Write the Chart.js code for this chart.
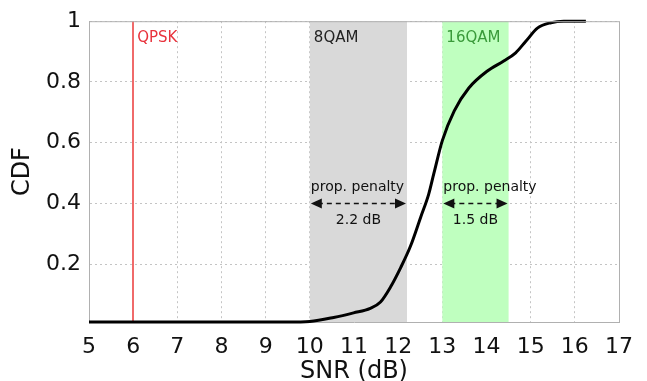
<!DOCTYPE html>
<html>
<head>
<meta charset="utf-8">
<script src="https://cdn.jsdelivr.net/npm/chart.js"></script>
<style>
  html, body { margin: 0; padding: 0; background: #fff; }
  #wrap { width: 647px; height: 381px; }
</style>
</head>
<body>
<div id="wrap"><canvas id="cdfChart" width="647" height="381"></canvas></div>

<script>
    // CDF curve
    const snr = [5, 9.5, 10.0, 10.54, 10.99, 11.37, 11.6, 11.83, 12.06, 12.28, 12.51, 12.69, 12.81,
                 13.0, 13.27, 13.6, 14.02, 14.39, 14.66, 14.89, 15.16, 15.46, 15.75, 16.25];
    const cdf = [0.01, 0.01, 0.012, 0.025, 0.04, 0.055, 0.076, 0.126, 0.19, 0.26, 0.355, 0.43, 0.5,
                 0.607, 0.705, 0.78, 0.836, 0.869, 0.896, 0.934, 0.978, 0.995, 1.0, 1.0];

    // modulation thresholds (dB) and penalty regions
    const formats = ['QPSK', '8QAM', '16QAM'];
    const thresholds = [6, 10, 13];
    const penaltyEnd = [null, 12.2, 14.5];
    const penaltyLabels = [null, '2.2 dB', '1.5 dB'];
    const arrowLevel = 0.4;

    const yTicks = [0.2, 0.4, 0.6, 0.8, 1];

    const font = '"DejaVu Sans", Verdana, sans-serif';

    function arrowHead(ctx, x, y, dir) {
        ctx.beginPath();
        ctx.moveTo(x, y);
        ctx.lineTo(x - dir * 11, y - 5);
        ctx.lineTo(x - dir * 11, y + 5);
        ctx.closePath();
        ctx.fill();
    }

    const regions = {
        id: 'regions',
        beforeDatasetsDraw(chart) {
            const { ctx, chartArea: a, scales: { x } } = chart;
            ctx.save();
            thresholds.forEach((t, i) => {
                if (penaltyEnd[i] === null) return;
                ctx.fillStyle = i === 1 ? '#d9d9d9' : '#bfffbf';
                const x0 = x.getPixelForValue(t), x1 = x.getPixelForValue(penaltyEnd[i]);
                ctx.fillRect(x0, a.top, x1 - x0, a.bottom - a.top);
            });
            // QPSK threshold line
            ctx.strokeStyle = '#f06a6a';
            ctx.lineWidth = 2;
            ctx.beginPath();
            const xq = Math.round(x.getPixelForValue(thresholds[0]));
            ctx.moveTo(xq, a.top);
            ctx.lineTo(xq, a.bottom);
            ctx.stroke();
            ctx.restore();
        },
        afterDatasetsDraw(chart) {
            const { ctx, chartArea: a, scales: { x, y } } = chart;
            ctx.save();
            // top and right frame
            ctx.strokeStyle = '#b0b0b0';
            ctx.lineWidth = 1;
            ctx.beginPath();
            ctx.moveTo(a.left, a.top + 0.5);
            ctx.lineTo(a.right + 0.5, a.top + 0.5);
            ctx.lineTo(a.right + 0.5, a.bottom);
            ctx.stroke();

            const colors = ['#e8323c', '#222222', '#3a9a3a'];
            ctx.font = '15px ' + font;
            ctx.textBaseline = 'middle';
            ctx.textAlign = 'left';
            thresholds.forEach((t, i) => {
                ctx.fillStyle = colors[i];
                ctx.fillText(formats[i], x.getPixelForValue(t) + 4, a.top + 17);
            });

            const ya = y.getPixelForValue(arrowLevel);
            thresholds.forEach((t, i) => {
                if (penaltyEnd[i] === null) return;
                const x0 = x.getPixelForValue(t), x1 = x.getPixelForValue(penaltyEnd[i]);
                ctx.fillStyle = '#111';
                ctx.font = '14px ' + font;
                ctx.textAlign = 'left';
                ctx.fillText('prop. penalty', x0 + 1, ya - 16);
                ctx.textAlign = 'center';
                ctx.fillText(penaltyLabels[i], (x0 + x1) / 2, ya + 17);
                ctx.strokeStyle = '#111';
                ctx.lineWidth = 1.6;
                ctx.setLineDash([5, 4]);
                ctx.beginPath();
                ctx.moveTo(x0 + 8, ya);
                ctx.lineTo(x1 - 8, ya);
                ctx.stroke();
                ctx.setLineDash([]);
                arrowHead(ctx, x0 + 1, ya, -1);
                arrowHead(ctx, x1 - 1, ya, 1);
            });
            ctx.restore();
        }
    };

    const ctx = document.getElementById('cdfChart').getContext('2d');
    const cdfChart = new Chart(ctx, {
        type: 'line',
        data: {
            datasets: [{
                data: snr.map((v, i) => ({ x: v, y: cdf[i] })),
                borderColor: '#000',
                borderWidth: 3,
                pointRadius: 0,
                cubicInterpolationMode: 'monotone',
                fill: false,
                clip: 4
            }]
        },
        options: {
            responsive: false,
            animation: false,
            events: [],
            layout: { padding: { top: 8, right: 28, left: 0, bottom: 0 } },
            plugins: { legend: { display: false }, tooltip: { enabled: false } },
            scales: {
                x: {
                    type: 'linear',
                    min: 5,
                    max: 17,
                    afterFit: s => { s.height = 59; },
                    ticks: { stepSize: 1, color: '#111', font: { family: font, size: 22 }, padding: 12 },
                    grid: { color: '#c4c4c4', drawTicks: false },
                    border: { color: '#b0b0b0', dash: [2, 3] },
                    title: { display: true, text: 'SNR (dB)', color: '#111', font: { family: font, size: 24 }, padding: { top: 0, bottom: -5 } }
                },
                y: {
                    min: 0.01,
                    max: 1,
                    afterFit: s => { s.width = 89; },
                    afterBuildTicks: scale => { scale.ticks = yTicks.map(v => ({ value: v })); },
                    ticks: { color: '#111', font: { family: font, size: 22 }, padding: 8, callback: v => String(v) },
                    grid: { color: '#c4c4c4', drawTicks: false },
                    border: { color: '#b0b0b0', dash: [2, 3] },
                    title: { display: true, text: 'CDF', color: '#111', font: { family: font, size: 24 }, padding: { top: 8, bottom: 0 } }
                }
            }
        },
        plugins: [regions]
    });
</script>
</body>
</html>
